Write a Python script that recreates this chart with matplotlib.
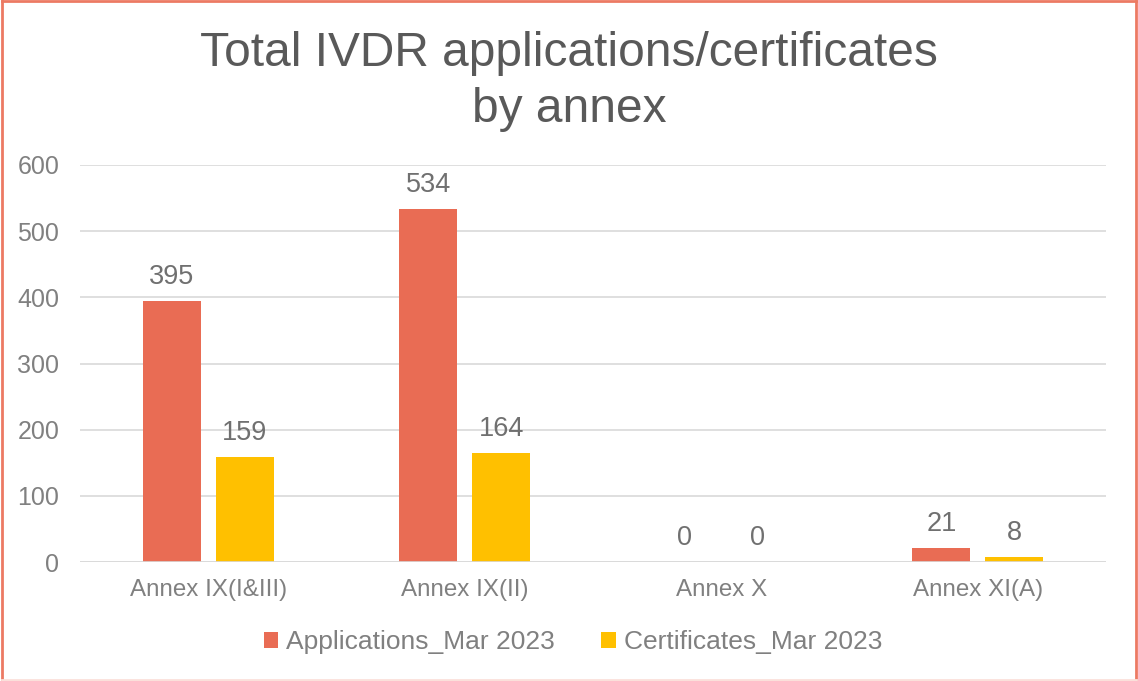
import matplotlib
matplotlib.use("Agg")
import matplotlib.pyplot as plt
import numpy as np
from matplotlib.lines import Line2D

categories = ["Annex IX(I&III)", "Annex IX(II)", "Annex X", "Annex XI(A)"]
applications = [395, 534, 0, 21]
certificates = [159, 164, 0, 8]
series_names = ["Applications_Mar 2023", "Certificates_Mar 2023"]
yticks = [0, 100, 200, 300, 400, 500, 600]

plt.rcParams['font.family'] = ['Liberation Sans', 'DejaVu Sans']
gray = "#808080"
red = "#E96C54"
yellow = "#FFC000"

fig = plt.figure(figsize=(11.38, 6.81), dpi=100)
ax = fig.add_axes([80/1138, 1-562/681, 1026/1138, 397/681])

x = np.arange(len(categories))
w = 0.226
off = 0.142
b1 = ax.bar(x - off, applications, w, color=red, label=series_names[0], zorder=3)
b2 = ax.bar(x + off, certificates, w, color=yellow, label=series_names[1], zorder=3)

for bars, vals in ((b1, applications), (b2, certificates)):
    for rect, v in zip(bars, vals):
        ax.annotate(str(v), (rect.get_x() + rect.get_width()/2, v),
                    xytext=(0, 8), textcoords="offset points",
                    ha="center", va="bottom", fontsize=19.5, color="#707070")

ax.set_xlim(-0.5, 3.5)
ax.set_ylim(0, 600)
ax.set_yticks(yticks)
ax.set_xticks(x)
ax.set_xticklabels(categories)
ax.tick_params(axis="both", length=0, colors=gray)
ax.tick_params(axis="y", pad=15, labelsize=18)
ax.tick_params(axis="x", pad=12, labelsize=17.4)
ax.yaxis.grid(True, color="#D9D9D9", linewidth=1.2, zorder=0)
for s in ax.spines.values():
    s.set_visible(False)
ax.axhline(0, color="#D9D9D9", linewidth=1.2, zorder=4)

fig.text(0.5, 1-54/681, "Total IVDR applications/certificates", ha="center", va="center",
         fontsize=34.5, color="#595959")
fig.text(0.5, 1-109/681, "by annex", ha="center", va="center",
         fontsize=34.5, color="#595959")

leg = fig.legend(handles=[b1, b2], labels=series_names, loc="center",
                 bbox_to_anchor=(573/1138, 1-642/681), ncol=2, frameon=False,
                 fontsize=19, handlelength=0.55, handleheight=0.55, handletextpad=0.3,
                 columnspacing=1.75, labelcolor=gray)

border = "#EC7A63"
e = 0.0015
fig.add_artist(Line2D([e, e], [e, 1-e], transform=fig.transFigure, color=border, lw=2))
fig.add_artist(Line2D([1-e, 1-e], [e, 1-e], transform=fig.transFigure, color=border, lw=2))
fig.add_artist(Line2D([e, 1-e], [1-e, 1-e], transform=fig.transFigure, color=border, lw=2))
fig.add_artist(Line2D([e, 1-e], [e, e], transform=fig.transFigure, color="#FBE0DA", lw=2))

fig.savefig("out.png", dpi=100)
